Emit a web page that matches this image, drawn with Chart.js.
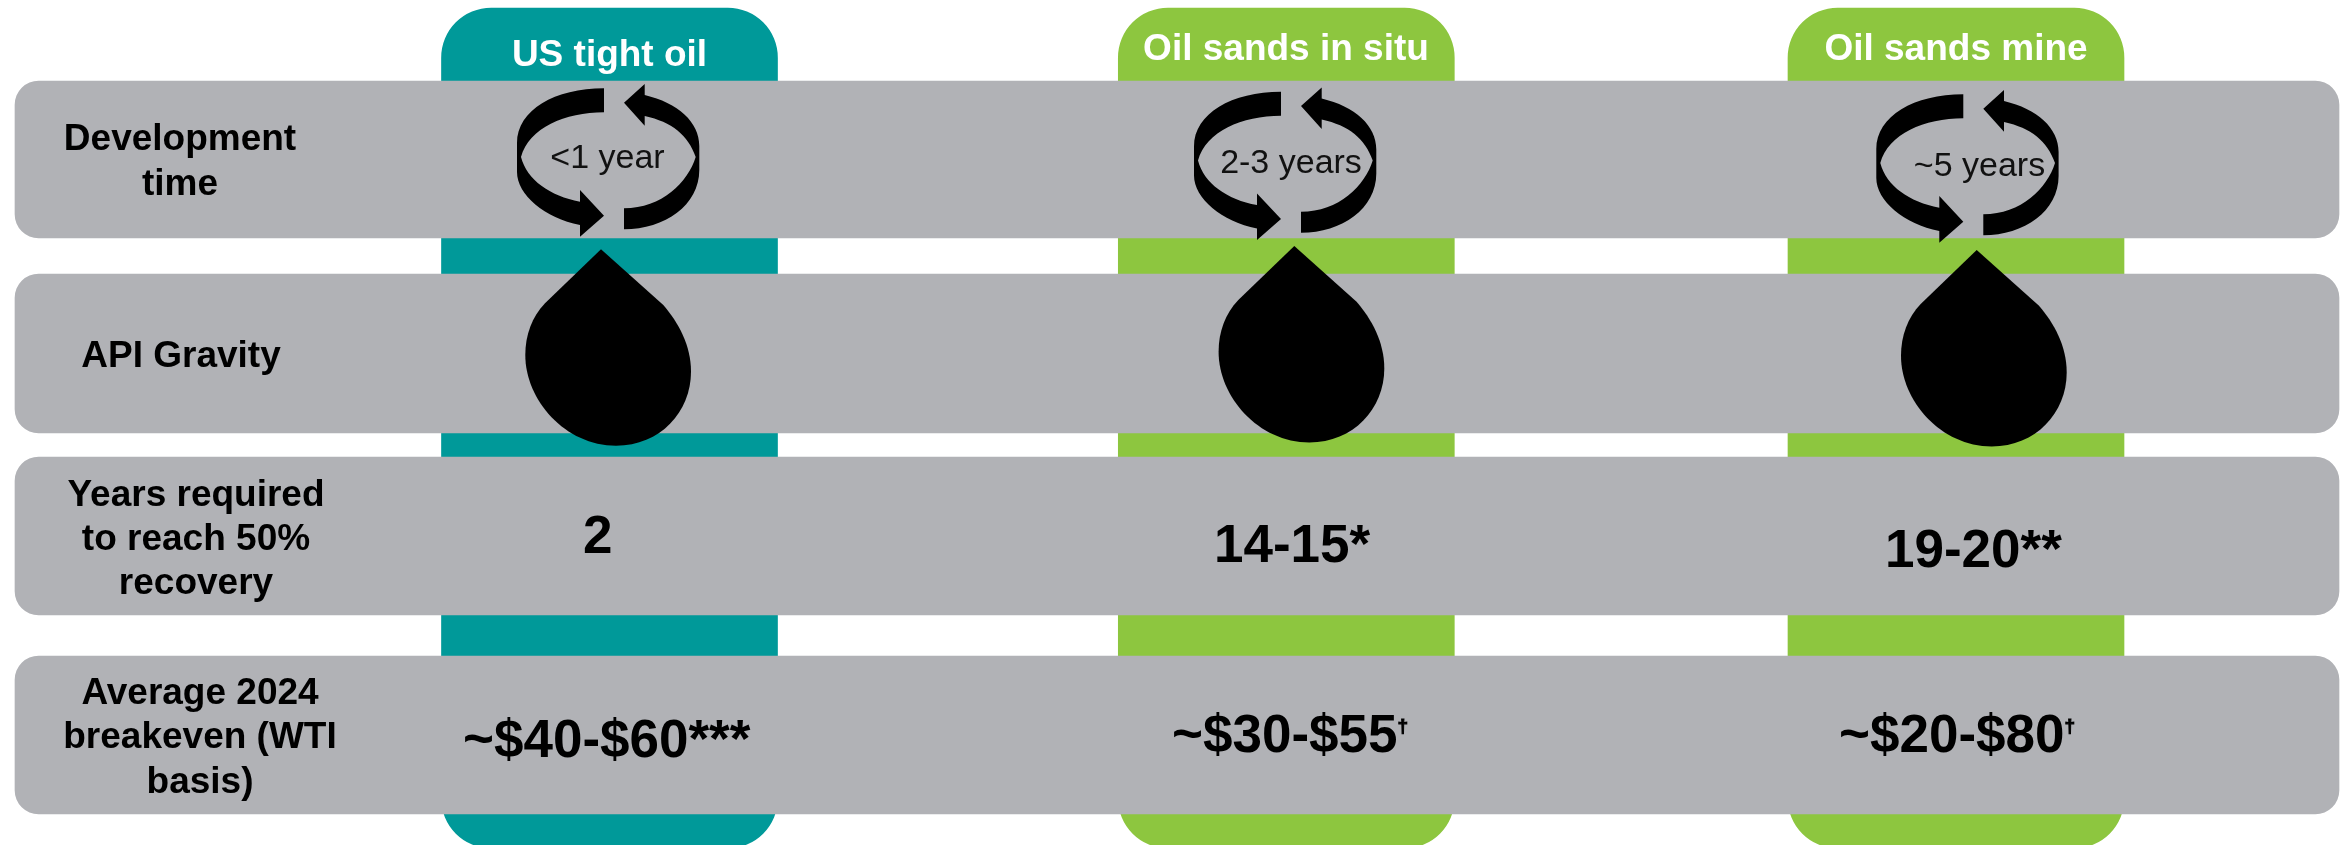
<!DOCTYPE html>
<html>
<head>
<meta charset="utf-8">
<title>Oil supply comparison</title>
<script src="https://cdn.jsdelivr.net/npm/chart.js@4"></script>
<style>
  html, body { margin: 0; padding: 0; background: #fff; }
  canvas { display: block; }
</style>
</head>
<body>
<canvas id="oilChart" width="2351" height="845"></canvas>
<script>
  const categories = ['US tight oil', 'Oil sands in situ', 'Oil sands mine'];
  const rowLabels = [
    ['Development', 'time'],
    ['API Gravity'],
    ['Years required', 'to reach 50%', 'recovery'],
    ['Average 2024', 'breakeven (WTI', 'basis)']
  ];
  const developmentTime = ['<1 year', '2-3 years', '~5 years'];
  const yearsToRecovery = ['2', '14-15*', '19-20**'];
  const breakeven = ['~$40-$60***', '~$30-$55', '~$20-$80'];
  const breakevenNotes = ['', '\u2020', '\u2020'];

  // layout, in canvas pixels (the axes run 0-2351 and 0-845)
  const columnCenters = [609.5, 1286.3, 1956];
  const columnSpan = [8, 848];
  const columnColors = ['#009999', '#8DC63F', '#8DC63F'];
  const rowSpans = [[81, 238], [274, 433], [457, 615], [656, 814]];
  const headerPos = [[609.5, 66], [1286, 60], [1956, 60]];
  const rowLabelX = [180, 181, 196, 200];
  const rowLabelBase = [[150, 195], [367], [506, 550, 594], [704, 748, 793]];
  const cycleOffsets = [[0, 0], [677, 3.4], [1359.3, 6]];
  const cycleTextPos = [[607.5, 168], [1291, 173], [1979.5, 175.7]];
  const dropOffsets = [[0, 0], [693.3, -3.3], [1375.7, 0.7]];
  const recoveryPos = [[583, 553], [1214, 562], [1885, 567]];
  const breakevenPos = [[463, 757], [1172, 752], [1839, 752]];

  const leftArrow = new Path2D('M604,88.3 C555,88.3 517,110 517,143 L517,172 C517,195 545,218 580,225 L580,236.7 L604,215.7 L580,190 L580,201.7 C550,196 527,180 521,157 C529,128 565,112.3 604,112.3 Z');
  const rightArrow = new Path2D('M624,102.7 L644.7,84 L644.7,95 C678,103 699.3,122 699.3,146 L699.3,170 C699.3,205 665,229.3 624,229.3 L624,208.3 C662,208.3 688,182 695.7,157 C688,135 672,122 644.7,116 L644.7,125.7 Z');
  const drop = new Path2D('M601,249.3 L545,303.3 C532,317 525.3,335 525.3,355 C525.3,400 565,445.7 616,445.7 C660,445.7 691,412 691,371.7 C691,345 678,322 663.3,305 Z');

  const FONT = '"Liberation Sans", Arial, sans-serif';

  const infographicPlugin = {
    id: 'infographic',
    afterDatasetsDraw(chart) {
      const { ctx } = chart;
      const x = chart.scales.x;
      const y = chart.scales.y;
      const text = (str, px, py, font, color, align) => {
        ctx.font = font;
        ctx.fillStyle = color;
        ctx.textAlign = align;
        ctx.fillText(str, x.getPixelForValue(px), y.getPixelForValue(py));
      };

      ctx.save();
      ctx.textBaseline = 'alphabetic';

      categories.forEach((c, i) => {
        text(c, headerPos[i][0], headerPos[i][1], 'bold 37px ' + FONT, '#fff', 'center');
      });

      rowLabels.forEach((lines, r) => {
        lines.forEach((line, l) => {
          text(line, rowLabelX[r], rowLabelBase[r][l], 'bold 37px ' + FONT, '#000', 'center');
        });
      });

      categories.forEach((c, i) => {
        ctx.save();
        ctx.translate(cycleOffsets[i][0], cycleOffsets[i][1]);
        ctx.fillStyle = '#000';
        ctx.fill(leftArrow);
        ctx.fill(rightArrow);
        ctx.restore();

        ctx.save();
        ctx.translate(dropOffsets[i][0], dropOffsets[i][1]);
        ctx.fillStyle = '#000';
        ctx.fill(drop);
        ctx.restore();

        text(developmentTime[i], cycleTextPos[i][0], cycleTextPos[i][1], '34px ' + FONT, '#111', 'center');
        text(yearsToRecovery[i], recoveryPos[i][0], recoveryPos[i][1], 'bold 53px ' + FONT, '#000', 'left');

        text(breakeven[i], breakevenPos[i][0], breakevenPos[i][1], 'bold 53px ' + FONT, '#000', 'left');
        if (breakevenNotes[i]) {
          const w = ctx.measureText(breakeven[i]).width;
          // the dagger is small and heavy in the reference
          text(breakevenNotes[i], breakevenPos[i][0] + w, breakevenPos[i][1] - 20, 'bold 19px ' + FONT, '#000', 'left');
          ctx.lineWidth = 1;
          ctx.strokeStyle = '#000';
          ctx.strokeText(breakevenNotes[i], x.getPixelForValue(breakevenPos[i][0] + w), y.getPixelForValue(breakevenPos[i][1] - 20));
        }
      });

      ctx.restore();
    }
  };

  const oilChart = new Chart(document.getElementById('oilChart').getContext('2d'), {
    type: 'bar',
    data: {
      datasets: [
        {
          label: 'Rows',
          xAxisID: 'xRows',
          order: 1,
          grouped: false,
          barPercentage: 1,
          categoryPercentage: 1,
          maxBarThickness: 2324,
          backgroundColor: '#B1B2B6',
          borderSkipped: false,
          borderRadius: 24,
          data: rowSpans.map(span => ({ x: 1177, y: span }))
        },
        {
          label: 'Columns',
          xAxisID: 'x',
          order: 2,
          grouped: false,
          barPercentage: 1,
          categoryPercentage: 1,
          maxBarThickness: 336,
          backgroundColor: columnColors,
          borderSkipped: false,
          borderRadius: 50,
          data: columnCenters.map(center => ({ x: center, y: columnSpan }))
        }
      ]
    },
    options: {
      responsive: false,
      animation: false,
      layout: { padding: 0 },
      plugins: { legend: { display: false }, tooltip: { enabled: false } },
      scales: {
        x: { type: 'linear', display: false, offset: false, min: 0, max: 2351, ticks: { stepSize: 2351 } },
        xRows: { type: 'linear', display: false, offset: false, min: 0, max: 2351, ticks: { stepSize: 2351 } },
        y: { type: 'linear', display: false, reverse: true, min: 0, max: 845 }
      }
    },
    plugins: [infographicPlugin]
  });
</script>
</body>
</html>
